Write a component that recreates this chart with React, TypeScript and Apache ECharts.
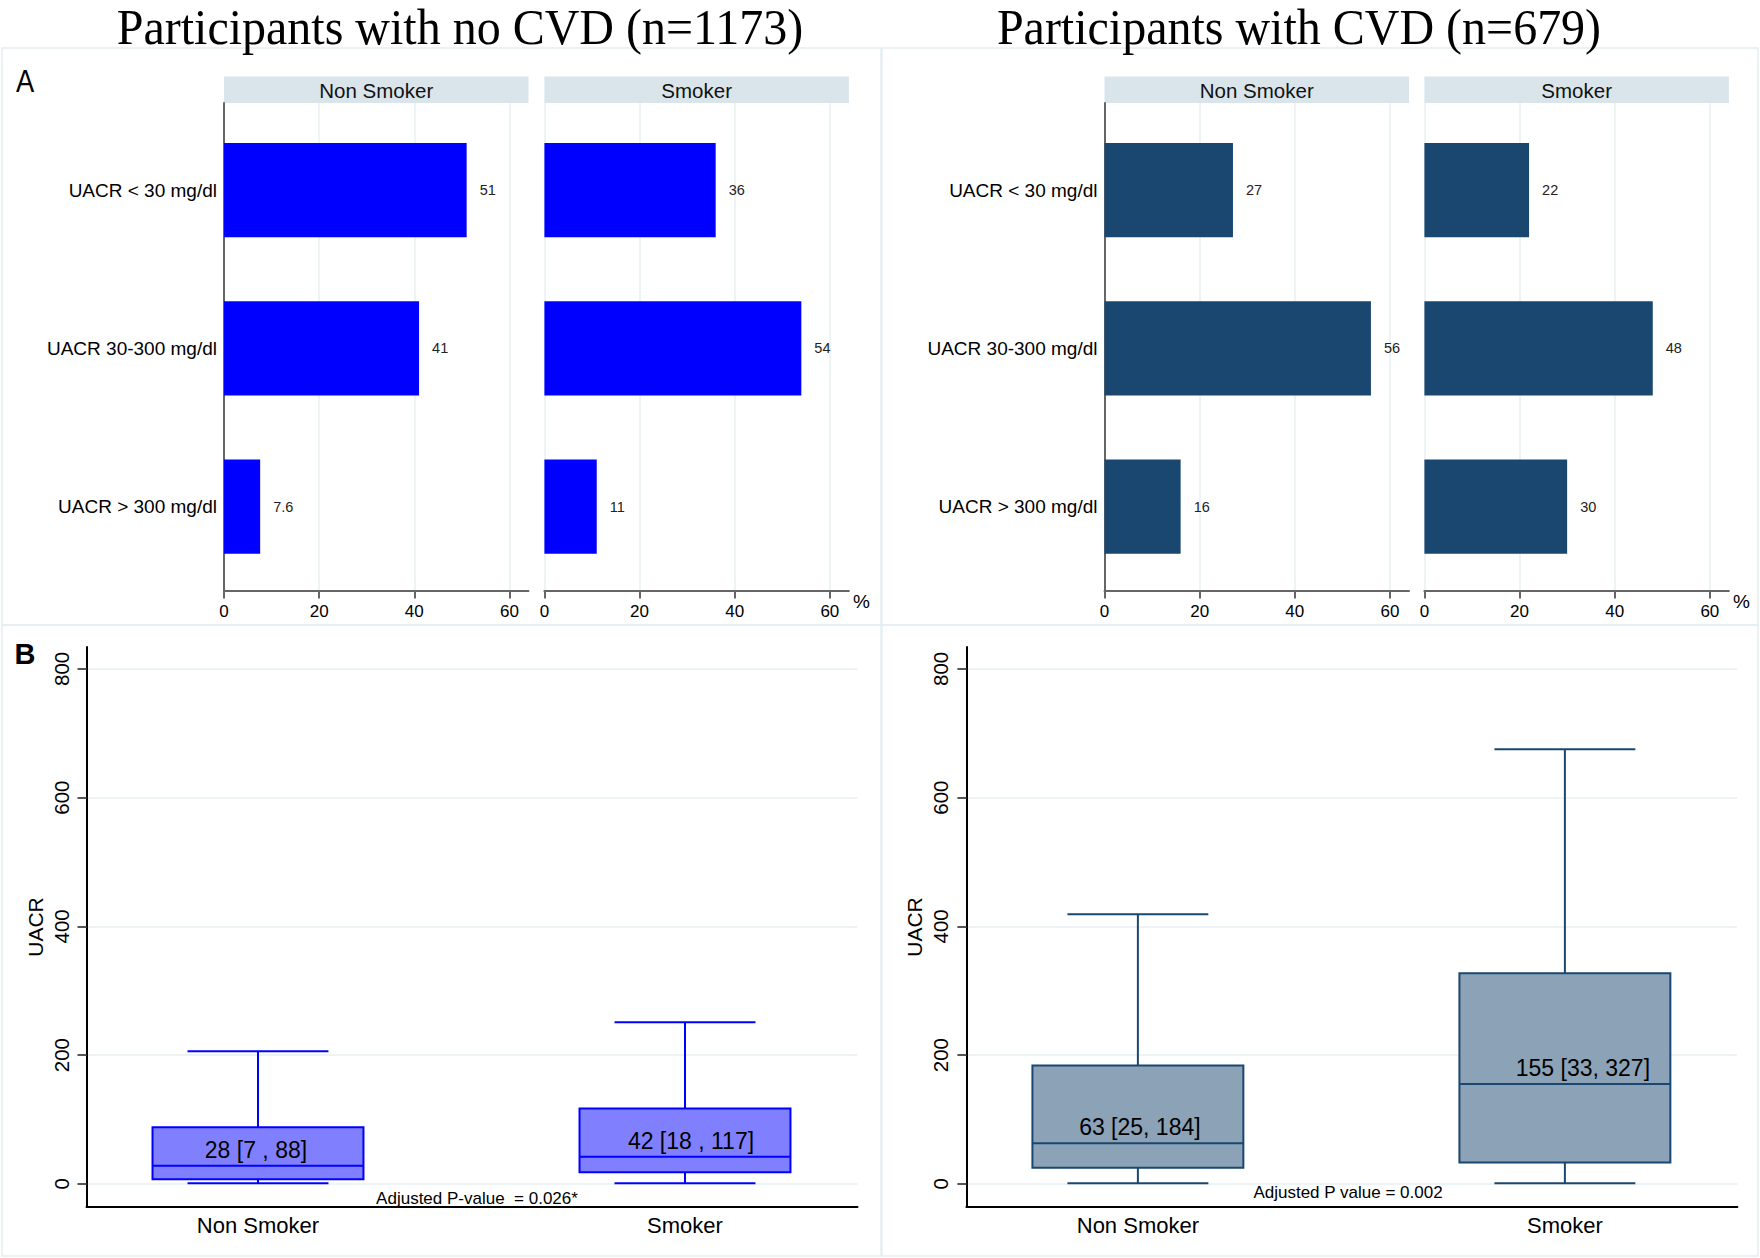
import React, { useEffect, useRef } from "react";
import * as echarts from "echarts";

// ---------------- data ----------------
const titles = ["Participants with no CVD (n=1173)", "Participants with CVD (n=679)"];
const facetNames = ["Non Smoker", "Smoker"];
const barCategories = ["UACR < 30 mg/dl", "UACR 30-300 mg/dl", "UACR > 300 mg/dl"];
const noCvdNonSmokerPct = [51, 41, 7.6];
const noCvdSmokerPct = [36, 54, 11];
const cvdNonSmokerPct = [27, 56, 16];
const cvdSmokerPct = [22, 48, 30];
const percentTicks = [0, 20, 40, 60];

const boxGroups = ["Non Smoker", "Smoker"];
// [lower whisker, Q1, median, Q3, upper whisker]
const noCvdNonSmokerBox = [1, 7, 28, 88, 206];
const noCvdSmokerBox = [1, 18, 42, 117, 251];
const cvdNonSmokerBox = [1, 25, 63, 184, 419];
const cvdSmokerBox = [1, 33, 155, 327, 675];
const noCvdBoxLabels = ["28 [7 , 88]", "42 [18 , 117]"];
const cvdBoxLabels = ["63 [25, 184]", "155 [33, 327]"];
const uacrTicks = [0, 200, 400, 600, 800];
const pValueTexts = ["Adjusted P-value  = 0.026*", "Adjusted P value = 0.002"];

// ---------------- layout & style ----------------
const W = 1760;
const H = 1258;
const SANS = "'Liberation Sans', Arial, Helvetica, sans-serif";
const SERIF = "'Liberation Serif', 'Times New Roman', serif";
const BLUE = "#0000ff";
const NAVY = "#1a476f";
const GRIDC = "#e9f1f3";
const HEADC = "#d9e5eb";
const FACET_LEFTS = [224, 544.4, 1104.5, 1424.4];
const FACET_W = 304.5;
const FACET_TOP = 103;
const FACET_H = 487.5;
const BAR_HALF = 0.298;
const BOX_LEFTS = [86.5, 966.4];
const BOX_W = 771;
const BOX_TOP = 647;
const BOX_H = 560;
const BOX_HALF = 0.247;
const CAP_HALF = 0.165;

const topFacets = [
  { vals: noCvdNonSmokerPct, color: BLUE, first: true },
  { vals: noCvdSmokerPct, color: BLUE, first: false },
  { vals: cvdNonSmokerPct, color: NAVY, first: true },
  { vals: cvdSmokerPct, color: NAVY, first: false },
];

const bottomPanels = [
  { boxes: [noCvdNonSmokerBox, noCvdSmokerBox], labels: noCvdBoxLabels, fill: "#8080ff", stroke: BLUE, labelDx: [-2, 6] },
  { boxes: [cvdNonSmokerBox, cvdSmokerBox], labels: cvdBoxLabels, fill: "#8ca3b7", stroke: NAVY, labelDx: [2, 18] },
];

function buildOption() {
  const grid: any[] = [];
  const xAxis: any[] = [];
  const yAxis: any[] = [];
  const series: any[] = [];

  topFacets.forEach((f, k) => {
    grid.push({ left: FACET_LEFTS[k], top: FACET_TOP, width: FACET_W, height: FACET_H, outerBoundsMode: "none" });
    xAxis.push({
      type: "value",
      gridIndex: k,
      min: 0,
      max: 64,
      axisLine: { show: true, onZero: false, lineStyle: { color: "#666", width: 2 } },
      axisTick: { show: true, length: 8, customValues: percentTicks, lineStyle: { color: "#666", width: 2 } },
      axisLabel: { customValues: percentTicks, fontSize: 17, color: "#000", margin: 12, fontFamily: SANS },
      splitLine: { show: true, lineStyle: { color: GRIDC, width: 1.5 } },
      name: f.first ? "" : "%",
      nameLocation: "end",
      nameGap: 4,
      nameTextStyle: { fontSize: 19, color: "#000", fontFamily: SANS, verticalAlign: "top", padding: [1, 0, 0, 0] },
    });
    yAxis.push({
      type: "value",
      gridIndex: k,
      inverse: true,
      min: -0.55,
      max: 2.53,
      axisLine: { show: f.first, onZero: false, lineStyle: { color: "#666", width: 2 } },
      axisTick: { show: false },
      axisLabel: {
        show: f.first,
        customValues: [0, 1, 2],
        formatter: (v: number) => barCategories[Math.round(v)] ?? "",
        fontSize: 19,
        color: "#000",
        margin: 7,
        fontFamily: SANS,
      },
      splitLine: { show: false },
    });
    const color = f.color;
    series.push({
      type: "custom",
      xAxisIndex: k,
      yAxisIndex: k,
      data: f.vals.map((v, i) => [i, v]),
      encode: { x: 1, y: 0 },
      renderItem: (params: any, api: any) => {
        const i = api.value(0);
        const v = api.value(1);
        const p0 = api.coord([0, i - BAR_HALF]);
        const p1 = api.coord([v, i + BAR_HALF]);
        const mid = api.coord([v, i]);
        return {
          type: "group",
          children: [
            {
              type: "rect",
              shape: { x: p0[0], y: Math.min(p0[1], p1[1]), width: p1[0] - p0[0], height: Math.abs(p1[1] - p0[1]) },
              style: { fill: color },
            },
            {
              type: "text",
              x: mid[0] + 13,
              y: mid[1],
              style: { text: String(v), fill: "#222", fontSize: 14.5, fontFamily: SANS, align: "left", verticalAlign: "middle" },
            },
          ],
        };
      },
    });
  });

  bottomPanels.forEach((p, j) => {
    const gi = 4 + j;
    grid.push({ left: BOX_LEFTS[j], top: BOX_TOP, width: BOX_W, height: BOX_H, outerBoundsMode: "none" });
    xAxis.push({
      type: "value",
      gridIndex: gi,
      min: -0.4016,
      max: 1.404,
      axisLine: { show: true, onZero: false, lineStyle: { color: "#000", width: 2 } },
      axisTick: { show: false },
      axisLabel: {
        customValues: [0, 1],
        formatter: (v: number) => boxGroups[Math.round(v)] ?? "",
        fontSize: 22,
        color: "#000",
        margin: 7,
        fontFamily: SANS,
      },
      splitLine: { show: false },
    });
    yAxis.push({
      type: "value",
      gridIndex: gi,
      min: -36,
      max: 834,
      axisLine: { show: true, onZero: false, lineStyle: { color: "#000", width: 2 } },
      axisTick: { show: true, length: 9, customValues: uacrTicks, lineStyle: { color: "#555", width: 2 } },
      axisLabel: { customValues: uacrTicks, rotate: 90, fontSize: 20.5, color: "#000", margin: 15, fontFamily: SANS },
      splitLine: { show: true, lineStyle: { color: GRIDC, width: 1.5 } },
      name: "UACR",
      nameLocation: "middle",
      nameGap: 41,
      nameTextStyle: { fontSize: 21, color: "#000", fontFamily: SANS },
    });
    const { fill, stroke, labels, labelDx } = p;
    series.push({
      type: "custom",
      xAxisIndex: gi,
      yAxisIndex: gi,
      data: p.boxes.map((b, i) => [i, ...b]),
      encode: { x: 0, y: [1, 2, 3, 4, 5] },
      renderItem: (params: any, api: any) => {
        const x = api.value(0);
        const lo = api.value(1);
        const q1 = api.value(2);
        const med = api.value(3);
        const q3 = api.value(4);
        const hi = api.value(5);
        const c = (a: number, b: number) => api.coord([a, b]);
        const tl = c(x - BOX_HALF, q3);
        const br = c(x + BOX_HALF, q1);
        const mL = c(x - BOX_HALF, med);
        const mR = c(x + BOX_HALF, med);
        const wHi = c(x, hi);
        const wQ3 = c(x, q3);
        const wQ1 = c(x, q1);
        const wLo = c(x, lo);
        const chL = c(x - CAP_HALF, hi);
        const chR = c(x + CAP_HALF, hi);
        const clL = c(x - CAP_HALF, lo);
        const clR = c(x + CAP_HALF, lo);
        const ls = { stroke, lineWidth: 2 };
        return {
          type: "group",
          children: [
            { type: "line", shape: { x1: wQ3[0], y1: wQ3[1], x2: wHi[0], y2: wHi[1] }, style: ls },
            { type: "line", shape: { x1: wQ1[0], y1: wQ1[1], x2: wLo[0], y2: wLo[1] }, style: ls },
            { type: "line", shape: { x1: chL[0], y1: chL[1], x2: chR[0], y2: chR[1] }, style: ls },
            { type: "line", shape: { x1: clL[0], y1: clL[1], x2: clR[0], y2: clR[1] }, style: ls },
            {
              type: "rect",
              shape: { x: tl[0], y: tl[1], width: br[0] - tl[0], height: br[1] - tl[1] },
              style: { fill, stroke, lineWidth: 2 },
            },
            { type: "line", shape: { x1: mL[0], y1: mL[1], x2: mR[0], y2: mR[1] }, style: ls },
            {
              type: "text",
              x: (mL[0] + mR[0]) / 2 + labelDx[params.dataIndex],
              y: mL[1] - 16,
              style: {
                text: labels[params.dataIndex],
                fill: "#000",
                fontSize: 23,
                fontFamily: SANS,
                align: "center",
                verticalAlign: "middle",
              },
            },
          ],
        };
      },
    });
  });

  const graphic: any[] = [];
  // panel frames
  [
    [2, 48, 879, 577],
    [882, 48, 876, 577],
    [2, 625, 879, 631],
    [882, 625, 876, 631],
  ].forEach(([x, y, w, h]) => {
    graphic.push({ type: "rect", shape: { x, y, width: w, height: h }, style: { fill: "none", stroke: "#e6eef1", lineWidth: 1.5 }, silent: true });
  });
  // titles
  [460, 1299].forEach((cx, i) => {
    graphic.push({
      type: "text",
      x: cx,
      y: 27,
      scaleX: 0.96,
      style: { text: titles[i], fontSize: 50, fontFamily: SERIF, fill: "#000", align: "center", verticalAlign: "middle" },
    });
  });
  // panel letters
  graphic.push({ type: "text", x: 25, y: 81, scaleX: 0.88, style: { text: "A", fontSize: 31, fontFamily: SANS, fill: "#000", align: "center", verticalAlign: "middle" } });
  graphic.push({ type: "text", x: 25, y: 654, style: { text: "B", fontSize: 29, fontWeight: "bold", fontFamily: SANS, fill: "#000", align: "center", verticalAlign: "middle" } });
  // facet headers
  FACET_LEFTS.forEach((l, k) => {
    graphic.push({ type: "rect", shape: { x: l, y: 76.5, width: FACET_W, height: 26.5 }, style: { fill: HEADC }, silent: true });
    graphic.push({
      type: "text",
      x: l + FACET_W / 2,
      y: 90,
      style: { text: facetNames[k % 2], fontSize: 20.5, fontFamily: SANS, fill: "#111", align: "center", verticalAlign: "middle" },
    });
  });
  // p-values
  [
    [477, 1198],
    [1348, 1192],
  ].forEach(([x, y], i) => {
    graphic.push({
      type: "text",
      x,
      y,
      style: { text: pValueTexts[i], fontSize: 17, fontFamily: SANS, fill: "#000", align: "center", verticalAlign: "middle" },
    });
  });

  return {
    animation: false,
    backgroundColor: "#fff",
    textStyle: { fontFamily: SANS },
    grid,
    xAxis,
    yAxis,
    series,
    graphic,
  };
}

export default function App() {
  const ref = useRef<HTMLDivElement>(null);
  useEffect(() => {
    document.body.style.margin = "0";
    document.body.style.overflow = "hidden";
    const chart = echarts.init(ref.current as HTMLDivElement, null, { renderer: "svg", width: W, height: H });
    chart.setOption(buildOption() as any);
    return () => chart.dispose();
  }, []);
  return <div ref={ref} style={{ width: W, height: H, background: "#fff" }} />;
}
